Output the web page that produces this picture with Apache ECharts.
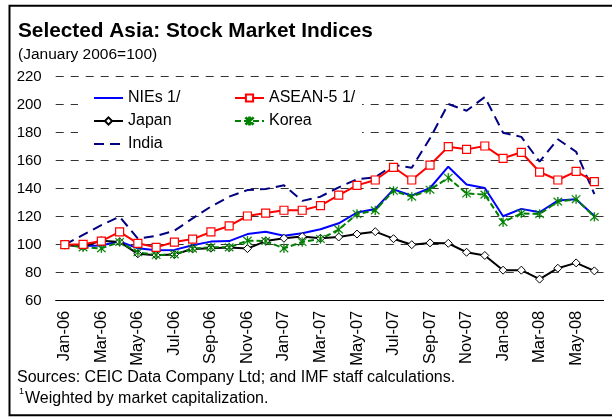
<!DOCTYPE html>
<html>
<head>
<meta charset="utf-8">
<script src="https://cdn.jsdelivr.net/npm/echarts@6/dist/echarts.min.js"></script>
<style>
  html, body { margin: 0; padding: 0; background: #fff; }
  #chart { width: 612px; height: 418px; }
</style>
</head>
<body>
<div id="chart"></div>
<script>
var months = ["Jan-06", "Feb-06", "Mar-06", "Apr-06", "May-06", "Jun-06", "Jul-06", "Aug-06", "Sep-06", "Oct-06", "Nov-06", "Dec-06",
  "Jan-07", "Feb-07", "Mar-07", "Apr-07", "May-07", "Jun-07", "Jul-07", "Aug-07", "Sep-07", "Oct-07", "Nov-07", "Dec-07",
  "Jan-08", "Feb-08", "Mar-08", "Apr-08", "May-08", "Jun-08"];

var nies = [100, 99, 99.5, 102.4, 97.4, 96, 96.3, 99.6, 102.2, 102.6, 107.6, 109.3, 106.4, 108.2, 111, 115.3,
  123, 125.5, 139.5, 135, 140.5, 155.7, 143, 140.5, 120.3, 125.6, 123.2, 131.5, 132.4, 120.5];
var asean = [100, 100.3, 102.6, 109.1, 101, 98.1, 101.9, 104, 109.1, 113.4, 120.5, 122.6, 124.6, 124.6, 127.9, 135.4,
  142.4, 146.2, 155.3, 146.2, 156.9, 170, 168.1, 170.5, 161.7, 166, 151.9, 146.2, 152.4, 145];
var japan = [100, 98.6, 102.9, 102, 93.5, 92.5, 93, 97, 97.5, 98, 97.2, 102.6, 104.6, 105.8, 104.6, 105.5,
  107.6, 109.3, 104.3, 100, 101.3, 101, 94.6, 92.3, 81.8, 81.8, 75.4, 83.2, 87, 81.3];
var korea = [100, 98.1, 97.4, 101.9, 94.6, 92.6, 93.1, 97.2, 98.1, 98.1, 102.9, 102.6, 97.4, 101.9, 104.1, 110.8,
  121.9, 124.5, 138.5, 134.3, 139.3, 147.8, 136.6, 135.8, 116.1, 122.4, 121.9, 130.8, 132.5, 119.9];
var india = [100, 107, 114, 120, 104.4, 106.2, 110, 118.8, 127.2, 134.3, 139, 139.8, 142.4, 131.3, 134.3, 141,
  146.7, 148.1, 157, 155, 176, 200.5, 195.7, 205.5, 180, 177, 159.3, 175.3, 166.4, 136.2];

var yTicks = { min: 60, max: 220, interval: 20 };

var FONT = "Liberation Sans, Arial, sans-serif";
var asterisk = "path://M4.5 0 L5.5 0 L5.5 10 L4.5 10 Z M0.5 1.2 L1.2 0.5 L9.5 8.8 L8.8 9.5 Z M8.8 0.5 L9.5 1.2 L1.2 9.5 L0.5 8.8 Z";

var chart = echarts.init(document.getElementById("chart"), null, { renderer: "canvas" });

var legendText = { fontFamily: FONT, fontSize: 16, color: "#000" };
var noMark = { color: "transparent", borderColor: "transparent", borderWidth: 0 };

chart.setOption({
  animation: false,
  backgroundColor: "#fff",
  textStyle: { fontFamily: FONT },
  title: [
    {
      text: "Selected Asia: Stock Market Indices",
      left: 18, top: 21, padding: 0,
      textStyle: { fontFamily: FONT, fontSize: 20.8, fontWeight: "bold", color: "#000" }
    },
    {
      text: "(January 2006=100)",
      left: 18, top: 47, padding: 0,
      textStyle: { fontFamily: FONT, fontSize: 15.5, fontWeight: "normal", color: "#000" }
    }
  ],
  legend: [
    {
      data: [
        { name: "NIEs 1/", itemStyle: noMark },
        "Japan",
        { name: "India", itemStyle: noMark }
      ],
      orient: "vertical",
      left: 93, top: 90,
      itemWidth: 29, itemHeight: 9, itemGap: 7,
      padding: 0,
      selectedMode: false,
      textStyle: legendText
    },
    {
      data: ["ASEAN-5 1/", "Korea"],
      orient: "vertical",
      left: 234, top: 90,
      itemWidth: 29, itemHeight: 9, itemGap: 7,
      padding: 0,
      selectedMode: false,
      textStyle: legendText
    }
  ],
  grid: { left: 55.7, right: 8.5, top: 76.7, bottom: 117.3, containLabel: false, outerBoundsMode: "none" },
  xAxis: {
    type: "category",
    data: months,
    boundaryGap: true,
    axisLine: { lineStyle: { color: "#000", width: 1 } },
    axisTick: { interval: 0, length: 5, lineStyle: { color: "#000" } },
    axisLabel: { interval: 1, rotate: 90, margin: 10, fontFamily: FONT, fontSize: 16.5, color: "#000" },
    splitLine: { show: false }
  },
  yAxis: {
    type: "value",
    min: yTicks.min, max: yTicks.max, interval: yTicks.interval,
    axisLine: { show: false },
    axisTick: { show: false },
    axisLabel: { margin: 14, fontFamily: FONT, fontSize: 15, color: "#000" },
    splitLine: { lineStyle: { color: "#333", width: 1, type: [8, 7] } }
  },
  graphic: [
    { type: "rect", z: 1, shape: { x: 78, y: 88, width: 284, height: 66 }, style: { fill: "#fff" } },
    { type: "rect", z: 10, shape: { x: 9.5, y: 5.8, width: 640, height: 409.5 }, style: { fill: "none", stroke: "#000", lineWidth: 2 } },
    { type: "text", z: 10, left: 17, top: 370, style: { text: "Sources: CEIC Data Company Ltd; and IMF staff calculations.", font: "16px " + FONT, fill: "#000" } },
    { type: "text", z: 10, left: 19, top: 387, style: { text: "1", font: "9px " + FONT, fill: "#000" } },
    { type: "text", z: 10, left: 25, top: 391, style: { text: "Weighted by market capitalization.", font: "16px " + FONT, fill: "#000" } }
  ],
  series: [
    {
      name: "India", type: "line", data: india, symbol: "none",
      lineStyle: { color: "#000080", width: 2, type: [10, 6] },
      itemStyle: { color: "#000080" }
    },
    {
      name: "NIEs 1/", type: "line", data: nies, symbol: "none",
      lineStyle: { color: "#0000FF", width: 2 },
      itemStyle: { color: "#0000FF" }
    },
    {
      name: "Japan", type: "line", data: japan, symbol: "diamond", symbolSize: 8,
      lineStyle: { color: "#000", width: 2 },
      itemStyle: { color: "#fff", borderColor: "#000", borderWidth: 1 }
    },
    {
      name: "Korea", type: "line", data: korea, symbol: asterisk, symbolSize: 9,
      lineStyle: { color: "#008000", width: 2, type: [6, 3] },
      itemStyle: { color: "#008000", borderColor: "#008000", borderWidth: 0.3 }
    },
    {
      name: "ASEAN-5 1/", type: "line", data: asean, symbol: "rect", symbolSize: 8,
      lineStyle: { color: "#FF0000", width: 2 },
      itemStyle: { color: "#fff", borderColor: "#FF0000", borderWidth: 1.2 }
    }
  ]
});
</script>
</body>
</html>
